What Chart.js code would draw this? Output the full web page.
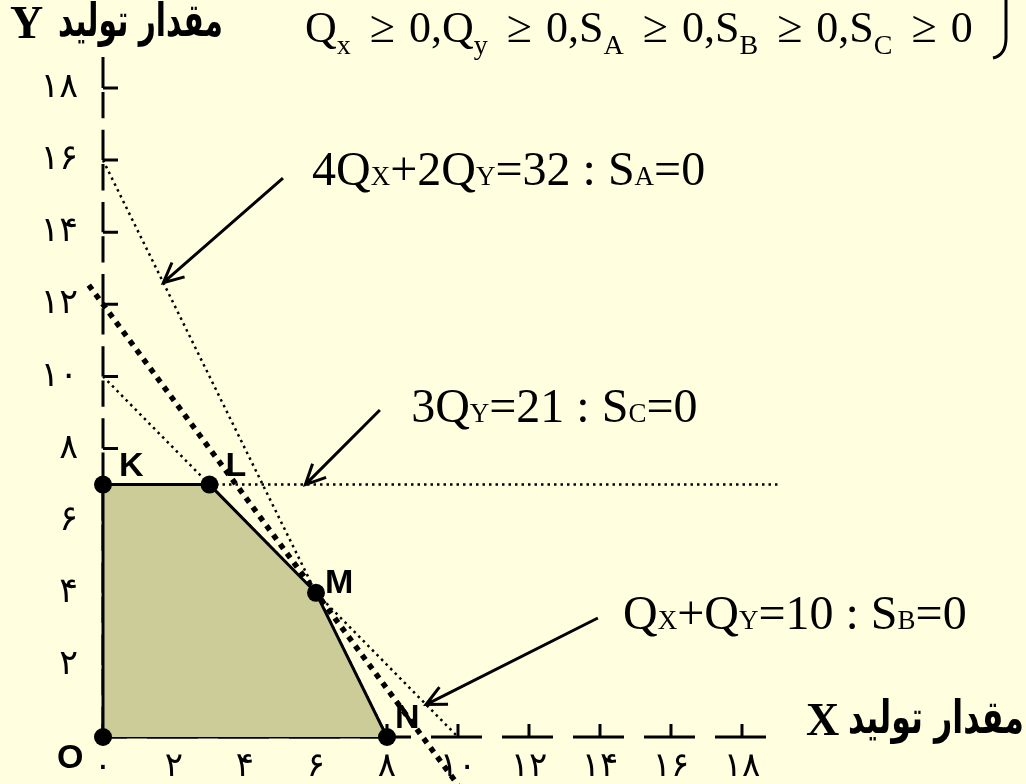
<!DOCTYPE html>
<html>
<head>
<meta charset="utf-8">
<script src="https://cdn.jsdelivr.net/npm/chart.js@4"></script>
<style>
  html, body { margin: 0; padding: 0; background: #FFFFE0; }
  canvas { display: block; }
</style>
</head>
<body>
<canvas id="chart" width="1026" height="784"></canvas>
<script>
// tick values on both axes
const xTicks = [0, 2, 4, 6, 8, 10, 12, 14, 16, 18];
const yTicks = [2, 4, 6, 8, 10, 12, 14, 16, 18];

// corners of the feasible region
const cornerNames = ['O', 'K', 'L', 'M', 'N'];
const cornerX = [0, 0, 3, 6, 8];
const cornerY = [0, 7, 7, 4, 0];

// constraint lines
const lineAX = [0, 8];   const lineAY = [16, 0];   // 4Qx+2Qy=32
const lineBX = [0, 10];  const lineBY = [10, 0];   // Qx+Qy=10
const lineCX = [3, 19];  const lineCY = [7, 7];    // 3Qy=21
// objective line through M
const objX = [-0.4, 10]; const objY = [12.53, -1.33];

// formula at the top
const formulaVars = [['Q', 'x'], ['Q', 'y'], ['S', 'A'], ['S', 'B'], ['S', 'C']];

// equation labels (n = normal, s = small capital)
const eqA = [['4Q', 'n'], ['X', 's'], ['+2Q', 'n'], ['Y', 's'], ['=32 : S', 'n'], ['A', 's'], ['=0', 'n']];
const eqC = [['3Q', 'n'], ['Y', 's'], ['=21 : S', 'n'], ['C', 's'], ['=0', 'n']];
const eqB = [['Q', 'n'], ['X', 's'], ['+Q', 'n'], ['Y', 's'], ['=10 : S', 'n'], ['B', 's'], ['=0', 'n']];

// where the notes sit (data units) and their arrows [fromX, fromY, toX, toY]
const notes = [
  { runs: eqA, at: [5.89, 15.31], arrow: [5.07, 15.5, 1.7, 12.6] },
  { runs: eqC, at: [8.68, 8.74], arrow: [7.8, 9.07, 5.7, 7] },
  { runs: eqB, at: [14.65, 3.0], arrow: [13.94, 3.3, 9.1, 0.9] }
];

const faDigits = '۰۱۲۳۴۵۶۷۸۹';
function toFa(v) {
  return String(v).replace(/\d/g, d => faDigits[d]);
}

function pts(xs, ys) {
  return xs.map((x, i) => ({ x: x, y: ys[i] }));
}

const cornerOffset = { O: [-46, 31], K: [16, -9], L: [16, -9], M: [9, 0], N: [8, -9] };

// fond jaune clair
const bgPlugin = {
  id: 'bg',
  beforeDraw(chart) {
    const ctx = chart.ctx;
    ctx.save();
    ctx.fillStyle = '#FFFFE0';
    ctx.fillRect(0, 0, chart.width, chart.height);
    ctx.restore();
  }
};

// dashed axes with their little tick marks
const axesPlugin = {
  id: 'axes',
  beforeDatasetsDraw(chart) {
    const ctx = chart.ctx;
    const xs = chart.scales.x, ys = chart.scales.y;
    const x0 = xs.getPixelForValue(0), y0 = ys.getPixelForValue(0);
    ctx.save();
    ctx.strokeStyle = '#000';
    ctx.lineWidth = 3;
    ctx.lineCap = 'butt';

    // y axis
    const yTop = ys.getPixelForValue(ys.max);
    const yStops = [yTop].concat(yTicks.slice().reverse().map(v => ys.getPixelForValue(v)), [y0]);
    ctx.beginPath();
    ctx.moveTo(x0, yStops[0]);
    ctx.lineTo(x0, yStops[1]);
    for (let i = 1; i < yStops.length - 1; i++) {
      const a = yStops[i], b = yStops[i + 1], len = b - a;
      ctx.moveTo(x0, a + 4); ctx.lineTo(x0, a + len * 0.42);
      ctx.moveTo(x0, a + len * 0.58); ctx.lineTo(x0, b);
    }
    yTicks.forEach(v => {
      const p = ys.getPixelForValue(v);
      ctx.moveTo(x0, p); ctx.lineTo(x0 + 15, p);
    });
    ctx.stroke();

    // x axis
    const xEnd = xs.getPixelForValue(xs.max);
    ctx.beginPath();
    xTicks.forEach(v => {
      const p = xs.getPixelForValue(v);
      ctx.moveTo(Math.max(p - 27, x0), y0); ctx.lineTo(Math.min(p + 24, xEnd), y0);
      ctx.moveTo(p, y0); ctx.lineTo(p, y0 - 13);
    });
    ctx.stroke();
    ctx.restore();
  }
};

function drawRuns(ctx, x, y, runs) {
  runs.forEach(([t, kind]) => {
    ctx.font = (kind === 'n' ? 48 : 27) + 'px "Liberation Serif"';
    ctx.fillText(t, x, y);
    x += ctx.measureText(t).width;
  });
}

function drawArrow(ctx, x1, y1, x2, y2) {
  const ang = Math.atan2(y2 - y1, x2 - x1);
  const head = 22, spread = 0.45;
  ctx.beginPath();
  ctx.moveTo(x1, y1); ctx.lineTo(x2, y2);
  ctx.moveTo(x2 - head * Math.cos(ang - spread), y2 - head * Math.sin(ang - spread));
  ctx.lineTo(x2, y2);
  ctx.lineTo(x2 - head * Math.cos(ang + spread), y2 - head * Math.sin(ang + spread));
  ctx.stroke();
}

// persian title squeezed into a given width, right aligned
function drawFa(ctx, text, right, base, width) {
  ctx.save();
  ctx.font = 'bold 46px "DejaVu Sans"';
  ctx.textAlign = 'left';
  const w = ctx.measureText(text).width;
  ctx.translate(right - width, base);
  ctx.scale(width / w, 1);
  ctx.fillText(text, 0, 0);
  ctx.restore();
}

const textPlugin = {
  id: 'texts',
  afterDatasetsDraw(chart) {
    const ctx = chart.ctx;
    const xs = chart.scales.x, ys = chart.scales.y;
    ctx.save();
    ctx.fillStyle = '#000';
    ctx.strokeStyle = '#000';
    ctx.lineWidth = 3;
    ctx.textBaseline = 'alphabetic';
    ctx.textAlign = 'left';

    // corner names
    ctx.font = 'bold 34px "Liberation Sans"';
    cornerNames.forEach((n, i) => {
      const o = cornerOffset[n];
      ctx.fillText(n, xs.getPixelForValue(cornerX[i]) + o[0], ys.getPixelForValue(cornerY[i]) + o[1]);
    });

    // notes with arrows
    notes.forEach(nt => {
      drawRuns(ctx, xs.getPixelForValue(nt.at[0]), ys.getPixelForValue(nt.at[1]), nt.runs);
      const a = nt.arrow;
      drawArrow(ctx, xs.getPixelForValue(a[0]), ys.getPixelForValue(a[1]),
        xs.getPixelForValue(a[2]), ys.getPixelForValue(a[3]));
    });

    // formula at the top
    let fx = 305;
    const fy = 42;
    formulaVars.forEach((v, i) => {
      ctx.font = '44px "Liberation Serif"';
      ctx.fillText(v[0], fx, fy); fx += ctx.measureText(v[0]).width;
      ctx.font = '28px "Liberation Serif"';
      ctx.fillText(v[1], fx, fy + 12); fx += ctx.measureText(v[1]).width + 19;
      ctx.font = '46px "Liberation Serif"';
      ctx.fillText('≥', fx, fy); fx += ctx.measureText('≥').width + 14;
      ctx.font = '44px "Liberation Serif"';
      const tail = i < formulaVars.length - 1 ? '0,' : '0';
      ctx.fillText(tail, fx, fy); fx += ctx.measureText(tail).width;
    });
    ctx.beginPath();
    ctx.moveTo(1006, 0);
    ctx.lineTo(1006, 38);
    ctx.quadraticCurveTo(1006, 55, 993, 58);
    ctx.stroke();

    // axis titles
    ctx.font = 'bold 46px "Liberation Serif"';
    ctx.fillText('Y', 10, 38);
    ctx.fillText('X', 806, 735);
    const fa = 'مقدار تولید';
    drawFa(ctx, fa, 223, 36, 165);
    drawFa(ctx, fa, 1024, 733, 176);
    ctx.restore();
  }
};

const thinDots = { borderColor: '#000', borderWidth: 2.5, borderDash: [2.5, 4], pointRadius: 0, fill: false, clip: false };

new Chart(document.getElementById('chart'), {
  type: 'line',
  data: {
    datasets: [
      {
        label: 'region',
        data: pts(cornerX, cornerY),
        borderColor: '#000',
        borderWidth: 3,
        backgroundColor: '#CCCC99',
        fill: 'origin',
        pointRadius: 9,
        pointBackgroundColor: '#000',
        pointBorderWidth: 0,
        clip: false
      },
      {
        label: 'base',
        data: pts([cornerX[4], cornerX[0]], [cornerY[4], cornerY[0]]),
        borderColor: '#000',
        borderWidth: 3,
        pointRadius: 0,
        fill: false,
        clip: false
      },
      Object.assign({ label: 'SA', data: pts(lineAX, lineAY) }, thinDots),
      Object.assign({ label: 'SB', data: pts(lineBX, lineBY) }, thinDots),
      Object.assign({ label: 'SC', data: pts(lineCX, lineCY) }, thinDots),
      {
        label: 'objective',
        data: pts(objX, objY),
        borderColor: '#000',
        borderWidth: 5.5,
        borderDash: [5.5, 6],
        pointRadius: 0,
        fill: false,
        clip: false
      }
    ]
  },
  options: {
    responsive: false,
    devicePixelRatio: 1,
    animation: false,
    layout: { padding: { top: 57, right: 251, left: 0, bottom: 0 } },
    plugins: { legend: { display: false }, tooltip: { enabled: false } },
    elements: { line: { tension: 0 } },
    scales: {
      x: {
        type: 'linear',
        min: 0,
        max: 18.93,
        afterFit: s => { s.height = 47; },
        afterBuildTicks: s => { s.ticks = xTicks.map(v => ({ value: v })); },
        grid: { display: false, drawTicks: false },
        border: { display: false },
        ticks: {
          autoSkip: false,
          maxRotation: 0,
          padding: 10,
          color: '#000',
          font: { family: 'DejaVu Sans', size: 34 },
          callback: v => toFa(v)
        }
      },
      y: {
        type: 'linear',
        min: 0,
        max: 18.86,
        afterFit: s => { s.width = 103; },
        afterBuildTicks: s => { s.ticks = yTicks.map(v => ({ value: v })); },
        grid: { display: false, drawTicks: false },
        border: { display: false },
        ticks: {
          autoSkip: false,
          padding: 25,
          color: '#000',
          font: { family: 'DejaVu Sans', size: 35 },
          callback: v => toFa(v)
        }
      }
    }
  },
  plugins: [bgPlugin, axesPlugin, textPlugin]
});
</script>
</body>
</html>
